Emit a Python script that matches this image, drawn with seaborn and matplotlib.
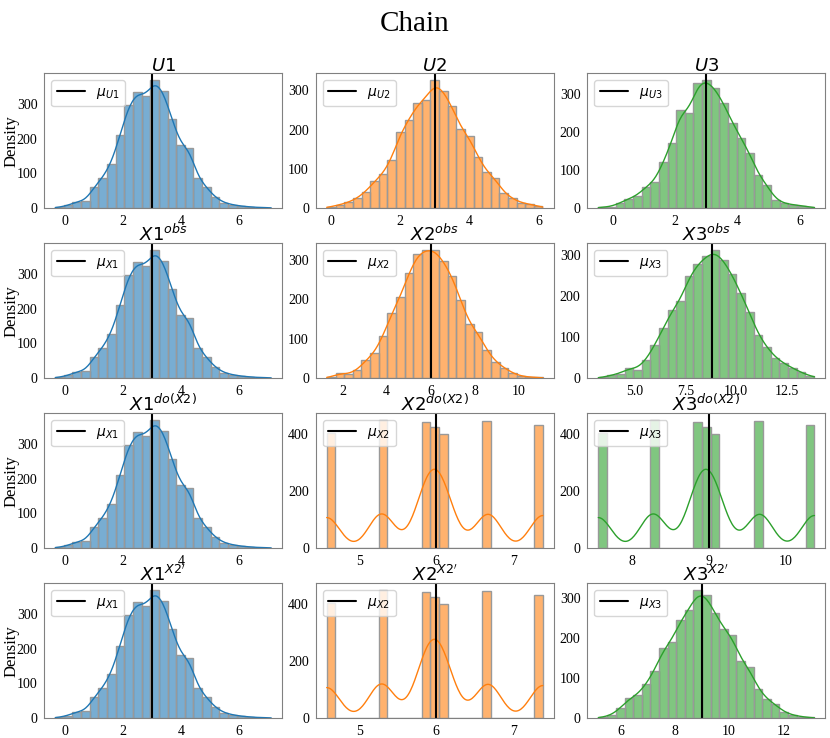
import numpy as np
import matplotlib
matplotlib.use('Agg')
import matplotlib.pyplot as plt
from matplotlib.ticker import MultipleLocator
import seaborn as sns

# Counts per bin (25 bins), with the bin range of each panel
u1_range = (-0.33, 7.10)
u1_counts = [3, 8, 19, 21, 60, 88, 128, 209, 296, 333, 321, 369, 337, 257, 182,
             173, 88, 60, 31, 16, 10, 6, 4, 2, 2]

u2_range = (-0.11, 6.10)
u2_counts = [4, 9, 15, 25, 42, 69, 87, 123, 195, 224, 268, 276, 327, 298, 261,
             201, 184, 130, 92, 78, 38, 25, 13, 11, 5]

u3_range = (-0.47, 6.48)
u3_counts = [3, 4, 14, 25, 33, 57, 69, 121, 172, 258, 251, 330, 338, 315, 276,
             225, 185, 146, 88, 62, 22, 13, 9, 7, 3]

x2_obs_range = (1.29, 11.08)
x2_obs_counts = [3, 13, 10, 20, 45, 63, 106, 164, 205, 266, 314, 325, 325, 296, 258,
                 198, 137, 116, 71, 42, 27, 13, 5, 3, 2]

x3_obs_range = (3.23, 13.86)
x3_obs_counts = [2, 8, 11, 26, 21, 44, 80, 122, 165, 187, 248, 277, 296, 312, 286,
                 252, 206, 161, 105, 76, 50, 36, 25, 14, 6]

x3_cf_range = (5.19, 13.13)
x3_cf_counts = [3, 7, 25, 50, 57, 85, 118, 175, 191, 246, 269, 320, 306, 262, 222,
                207, 142, 127, 72, 48, 35, 15, 8, 4, 2]

# intervened X2 takes a handful of discrete values
x2_do_values = [4.577, 5.29, 5.85, 5.98, 6.12, 6.675, 7.386]
x3_do_values = [7.567, 8.28, 8.84, 8.97, 9.11, 9.665, 10.376]
do_counts = [402, 448, 441, 424, 400, 443, 429]

titles = [[r'$U1$', r'$U2$', r'$U3$'],
          [r'$X1^{obs}$', r'$X2^{obs}$', r'$X3^{obs}$'],
          [r'$X1^{do(X2)}$', r'$X2^{do(X2)}$', r'$X3^{do(X2)}$'],
          [r"$X1^{X2'}$", r"$X2^{X2'}$", r"$X3^{X2'}$"]]
mean_labels = [[r'$\mu_{U1}$', r'$\mu_{U2}$', r'$\mu_{U3}$'],
               [r'$\mu_{X1}$', r'$\mu_{X2}$', r'$\mu_{X3}$'],
               [r'$\mu_{X1}$', r'$\mu_{X2}$', r'$\mu_{X3}$'],
               [r'$\mu_{X1}$', r'$\mu_{X2}$', r'$\mu_{X3}$']]
means = [[3.0, 3.0, 3.0],
         [3.0, 6.0, 8.8],
         [3.0, 6.0, 9.0],
         [3.0, 6.0, 9.0]]
# tick spacing on x for each panel
x_steps = [[2, 2, 2],
           [2, 2, 2.5],
           [2, 1, 1],
           [2, 1, 2]]


def from_hist(counts, rng):
    # rebuild a sample from the read histogram: each count sits at its bin centre
    edges = np.linspace(rng[0], rng[1], len(counts) + 1)
    centres = (edges[:-1] + edges[1:]) / 2
    return np.repeat(centres, counts)


panels = [
    [(from_hist(u1_counts, u1_range), u1_range), (from_hist(u2_counts, u2_range), u2_range),
     (from_hist(u3_counts, u3_range), u3_range)],
    [(from_hist(u1_counts, u1_range), u1_range), (from_hist(x2_obs_counts, x2_obs_range), x2_obs_range),
     (from_hist(x3_obs_counts, x3_obs_range), x3_obs_range)],
    [(from_hist(u1_counts, u1_range), u1_range), (np.repeat(x2_do_values, do_counts), None),
     (np.repeat(x3_do_values, do_counts), None)],
    [(from_hist(u1_counts, u1_range), u1_range), (np.repeat(x2_do_values, do_counts), None),
     (from_hist(x3_cf_counts, x3_cf_range), x3_cf_range)],
]
colors = sns.color_palette('tab10')[:3]

sns.set_style('white', {'axes.edgecolor': '0.5'})
plt.rcParams['font.family'] = ['Liberation Serif', 'DejaVu Serif']
plt.rcParams['mathtext.fontset'] = 'dejavusans'
for key in ['text.color', 'axes.labelcolor', 'xtick.color', 'ytick.color']:
    plt.rcParams[key] = 'black'

fig, axes = plt.subplots(4, 3, figsize=(8.3, 7.38), dpi=100)
fig.subplots_adjust(left=0.0534, right=0.9943, top=0.9007, bottom=0.0267,
                    wspace=0.142, hspace=0.26)

for r in range(4):
    for c in range(3):
        ax = axes[r, c]
        data, rng = panels[r][c]
        if rng is None:
            sns.histplot(x=data, bins=25, kde=True, color=colors[c], alpha=0.6,
                         edgecolor='0.6', linewidth=1, line_kws={'linewidth': 1}, ax=ax)
        else:
            sns.histplot(x=data, bins=25, binrange=rng, kde=True, color=colors[c], alpha=0.6,
                         edgecolor='0.6', linewidth=1, kde_kws={'cut': 0.7},
                         line_kws={'linewidth': 1}, ax=ax)
        ax.axvline(means[r][c], color='black', linewidth=1.5, label=mean_labels[r][c])
        ax.legend(loc='upper left', fontsize=10)
        ax.set_title(titles[r][c], fontsize=13, pad=2)
        ax.xaxis.set_major_locator(MultipleLocator(x_steps[r][c]))
        ax.set_xlabel('')
        ax.set_ylabel('Density' if c == 0 else '', fontsize=12, labelpad=-2)
        ax.tick_params(labelsize=10, pad=1.5)

fig.suptitle('Chain', fontsize=21, y=0.985)
plt.savefig('out.png', dpi=100)
